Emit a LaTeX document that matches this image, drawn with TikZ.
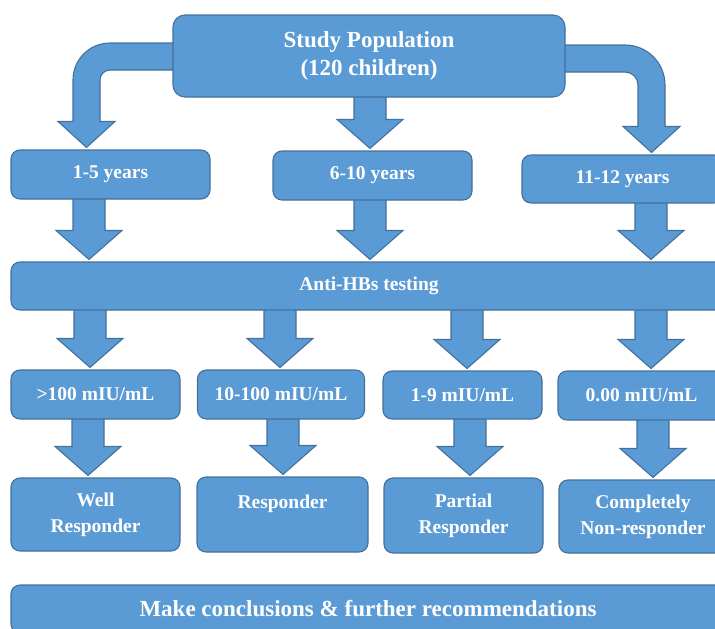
\documentclass[tikz,border=0pt]{standalone}
\usepackage{fontspec}
\setmainfont{Liberation Serif}
\usetikzlibrary{calc}
\definecolor{boxblue}{HTML}{5B9BD5}
\definecolor{boxedge}{HTML}{41719C}
\pgfdeclarelayer{bg}
\pgfsetlayers{bg,main}
\newcommand\vbarrow[3]{%
  \path[blk] let \p1=(#2), \p2=(#3) in
  (#1pt-16pt,\y1+4pt) -- (#1pt-16pt,\y2+31pt) -- (#1pt-33pt,\y2+31pt) --
  (#1pt,\y2+2pt) -- (#1pt+33pt,\y2+31pt) -- (#1pt+16pt,\y2+31pt) --
  (#1pt+16pt,\y1+4pt) -- cycle;}
\begin{document}
\begin{tikzpicture}[x=1pt,y=-1pt,
  box/.style={draw=boxedge, fill=boxblue, line width=1.1pt, rounded corners=9pt,
    text=white, font=\bfseries\fontsize{19.5}{26}\selectfont, align=center, inner sep=0pt},
  bigtext/.style={font=\bfseries\fontsize{23}{28}\selectfont},
  blk/.style={draw=boxedge, fill=boxblue, line width=1.1pt, line join=miter}]
\useasboundingbox (0,0) rectangle (715,629);
% top
\node[box, bigtext, rounded corners=12pt, minimum width=392pt, minimum height=82pt] (pop) at (369,56) {Study Population\\(120 children)};
% age groups
\node[box, minimum width=199pt, minimum height=49pt] (y1) at (110.5,174.5) {1-5 years};
\node[box, minimum width=199pt, minimum height=49pt] (y2) at (372.5,175.5) {6-10 years};
\node[box, minimum width=201pt, minimum height=48pt] (y3) at (622.5,179) {11-12 years};
% testing bar
\node[box, minimum width=716pt, minimum height=48pt] (bar) at (369,286) {Anti-HBs testing};
% levels
\node[box, minimum width=169pt, minimum height=49pt] (r1) at (95.5,394.5) {>100 mIU/mL};
\node[box, minimum width=167pt, minimum height=49pt] (r2) at (281,394.5) {10-100 mIU/mL};
\node[box, minimum width=159pt, minimum height=48pt] (r3) at (462.5,395) {1-9 mIU/mL};
\node[box, minimum width=167pt, minimum height=49pt] (r4) at (641.5,395.5) {0.00 mIU/mL};
% outcomes
\node[box, minimum width=169pt, minimum height=73pt] (s1) at (95.5,514.5) {Well\\Responder};
\node[box, minimum width=171pt, minimum height=75pt] (s2) at (282.5,514.5) {Responder\\\mbox{}};
\node[box, minimum width=159pt, minimum height=75pt] (s3) at (463.5,515.5) {Partial\\Responder};
\node[box, minimum width=168pt, minimum height=73pt] (s4) at (643,516.5) {Completely\\Non-responder};
% conclusions
\node[box, bigtext, minimum width=714pt, minimum height=48pt] (end) at (368,609) {Make conclusions \& further recommendations};
\begin{pgfonlayer}{bg}
% curved arrows
\path[blk] let \p1=(pop.west), \p2=(y1.north) in
  (\x1+6pt,-43pt) -- (110pt,-43pt) arc[start angle=90,end angle=180,radius=37pt]
  -- (73pt,\y2+28pt) -- (58pt,\y2+28pt) -- (86.5pt,\y2+2pt) -- (115pt,\y2+28pt)
  -- (100pt,\y2+28pt) -- (100pt,-80pt) arc[start angle=180,end angle=90,radius=10pt]
  -- (\x1+6pt,-70pt) -- cycle;
\path[blk] let \p1=(pop.east), \p2=(y3.north) in
  (\x1-6pt,-45pt) -- (625pt,-45pt) arc[start angle=90,end angle=0,radius=40pt]
  -- (665pt,\y2+28pt) -- (680pt,\y2+28pt) -- (651.5pt,\y2+2pt) -- (623pt,\y2+28pt)
  -- (638pt,\y2+28pt) -- (638pt,-85pt) arc[start angle=0,end angle=90,radius=13pt]
  -- (\x1-6pt,-72pt) -- cycle;
\vbarrow{370}{pop.south}{y2.north}
% ages to testing
\vbarrow{89}{y1.south}{bar.north}
\vbarrow{370}{y2.south}{bar.north}
\vbarrow{651}{y3.south}{bar.north}
% testing to levels
\vbarrow{90}{bar.south}{r1.north}
\vbarrow{280}{bar.south}{r2.north}
\vbarrow{467}{bar.south}{r3.north}
\vbarrow{651}{bar.south}{r4.north}
% levels to outcomes
\vbarrow{88}{r1.south}{s1.north}
\vbarrow{283}{r2.south}{s2.north}
\vbarrow{470}{r3.south}{s3.north}
\vbarrow{653}{r4.south}{s4.north}
\end{pgfonlayer}
\end{tikzpicture}
\end{document}
